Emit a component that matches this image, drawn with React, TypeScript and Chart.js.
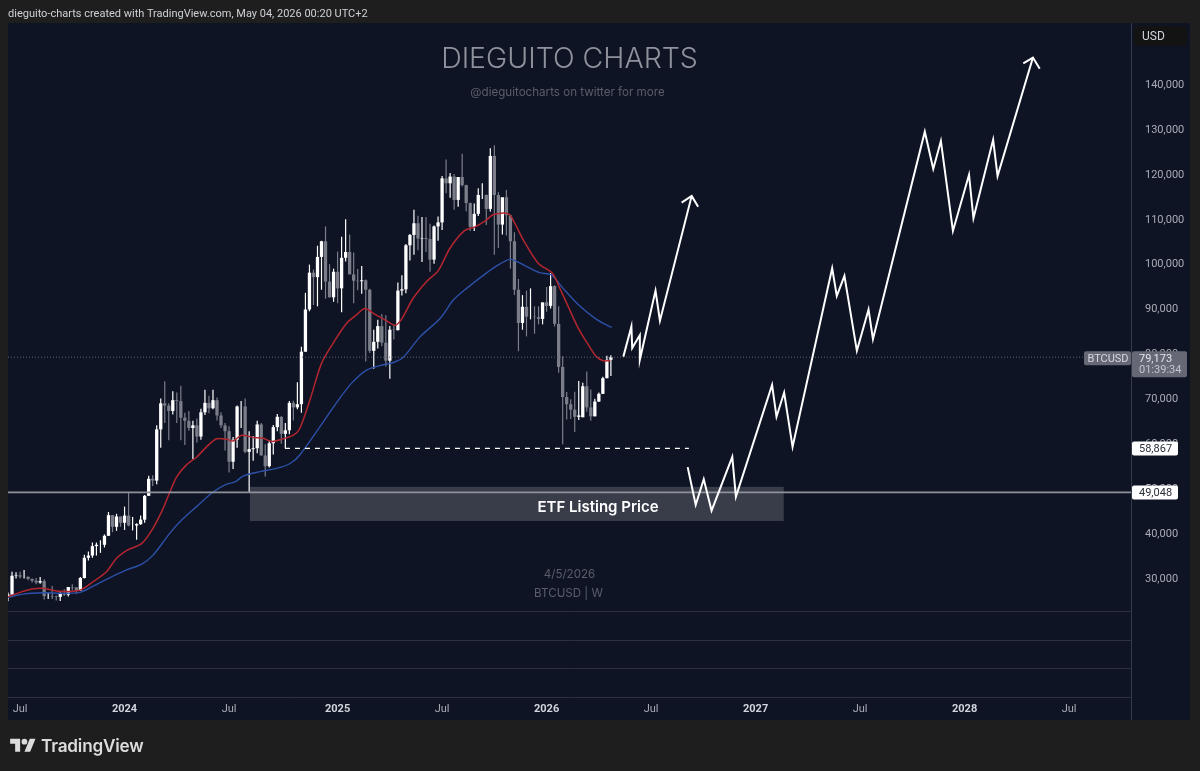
import React, { useEffect, useRef } from 'react';
import { Chart, registerables } from 'chart.js';

Chart.register(...registerables);

const FONT = 'Inter, "Liberation Sans", sans-serif';
const AXIS_FONT = 'Roboto, "Liberation Sans", sans-serif';

// weekly BTCUSD candles, thousands of USD, first one is the week of 12 Jun 2023
const opens = [
  25.9, 26.3, 30.5, 30.6, 30.3, 30.3, 29.8, 29.4, 29.0, 29.3, 26.0, 26.0, 25.9, 25.8, 26.5, 26.3, 28.0, 27.9, 27.2, 30.0,
  34.5, 35.0, 37.1, 37.4, 37.4, 39.4, 44.0, 41.4, 43.7, 42.3, 43.9, 41.7, 41.7, 42.0, 43.0, 48.3, 52.1, 51.7, 63.1, 68.9,
  68.4, 67.2, 69.6, 69.4, 65.7, 65.0, 63.4, 64.0, 61.5, 66.9, 69.0, 67.8, 69.6, 66.2, 64.0, 62.7, 55.9, 60.8, 68.2, 68.2,
  58.1, 58.7, 58.9, 64.2, 57.3, 54.9, 60.0, 63.6, 65.9, 62.1, 62.9, 69.0, 68.0, 68.7, 80.4, 89.8, 98.0, 97.0, 101.5, 105.0,
  96.0, 92.5, 98.2, 94.5, 101.3, 102.6, 97.6, 96.2, 96.1, 96.3, 94.2, 80.6, 82.6, 86.1, 82.4, 78.4, 85.3, 85.2, 94.0, 94.3,
  104.1, 106.4, 109.0, 105.6, 105.7, 105.5, 100.9, 108.3, 109.2, 119.0, 117.9, 119.4, 114.2, 119.3, 117.5, 113.5, 108.2, 111.1, 115.3, 115.3,
  112.2, 124.0, 115.3, 108.7, 114.8, 110.8, 105.0, 94.2, 86.8, 90.4, 88.2, 88.2, 88.1, 87.7, 91.4, 90.6, 95.0, 86.6, 77.0, 70.3,
  68.7, 67.5, 65.9, 65.8, 72.7, 68.0, 66.0, 69.3, 71.0, 74.5, 78.6,
];
const closes = [
  26.3, 30.5, 30.6, 30.3, 30.3, 29.8, 29.4, 29.0, 29.3, 26.0, 26.0, 25.9, 25.8, 26.5, 26.3, 28.0, 27.9, 27.2, 30.0, 34.5,
  35.0, 37.1, 37.4, 37.4, 39.4, 44.0, 41.4, 43.7, 42.3, 43.9, 41.7, 41.7, 42.0, 43.0, 48.3, 52.1, 51.7, 63.1, 68.9, 68.4,
  67.2, 69.6, 69.4, 65.7, 65.0, 63.4, 64.0, 61.5, 66.9, 69.0, 67.8, 69.6, 66.2, 64.0, 62.7, 55.9, 60.8, 68.2, 68.2, 58.1,
  58.7, 58.9, 64.2, 57.3, 54.9, 60.0, 63.6, 65.9, 62.1, 62.9, 69.0, 68.0, 68.7, 80.4, 89.8, 98.0, 97.0, 101.5, 105.0, 96.0,
  92.5, 98.2, 94.5, 101.3, 102.6, 97.6, 96.2, 96.1, 96.3, 94.2, 80.6, 82.6, 86.1, 82.4, 78.4, 85.3, 85.2, 94.0, 94.3, 104.1,
  106.4, 109.0, 105.6, 105.7, 105.5, 100.9, 108.3, 109.2, 119.0, 117.9, 119.4, 114.2, 119.3, 117.5, 113.5, 108.2, 111.1, 115.3, 115.3, 112.2,
  124.0, 115.3, 108.7, 114.8, 110.8, 105.0, 94.2, 86.8, 90.4, 88.2, 88.2, 88.1, 87.7, 91.4, 90.6, 95.0, 86.6, 77.0, 70.3, 68.7,
  67.5, 65.9, 66.2, 72.7, 68.0, 66.0, 69.3, 71.0, 74.5, 78.6, 79.17,
];
const highs = [
  26.8, 31.4, 31.3, 31.4, 31.8, 30.3, 29.9, 30.0, 30.2, 29.7, 26.8, 28.2, 26.1, 27.0, 27.5, 28.0, 28.6, 28.0, 30.2, 35.2,
  35.9, 37.9, 37.9, 38.4, 39.7, 44.7, 44.0, 44.3, 43.7, 45.9, 49.0, 43.6, 42.2, 43.9, 48.5, 52.8, 52.9, 64.0, 70.0, 73.8,
  68.9, 71.6, 71.3, 72.8, 66.8, 67.2, 65.0, 65.5, 67.7, 71.9, 70.6, 71.9, 70.2, 66.9, 64.5, 63.8, 61.4, 68.4, 69.4, 70.0,
  62.7, 61.6, 65.0, 64.5, 59.8, 60.6, 64.1, 66.5, 66.0, 64.5, 69.4, 69.5, 73.6, 81.5, 93.5, 99.8, 98.7, 104.0, 105.1, 108.3,
  99.9, 98.9, 102.7, 106.0, 109.9, 106.5, 102.5, 98.8, 99.5, 96.5, 94.4, 85.3, 87.5, 88.8, 88.5, 86.1, 86.4, 95.8, 97.4, 104.4,
  106.6, 112.0, 110.7, 110.4, 110.4, 108.9, 108.5, 110.5, 119.5, 123.2, 120.2, 120.0, 119.3, 124.5, 117.6, 113.6, 113.4, 116.8, 117.9, 115.4,
  125.7, 126.4, 115.9, 113.7, 116.4, 110.7, 107.0, 96.6, 93.0, 94.0, 94.5, 90.5, 90.5, 90.9, 94.8, 97.9, 95.2, 90.5, 79.4, 71.4,
  69.8, 71.5, 73.9, 73.5, 76.0, 72.0, 69.9, 71.3, 74.8, 79.5, 79.6,
];
const lows = [
  24.8, 26.3, 29.9, 29.9, 29.9, 29.5, 29.0, 28.6, 28.7, 25.2, 25.3, 25.3, 25.0, 24.9, 26.0, 25.9, 27.2, 26.5, 27.1, 29.9,
  33.9, 34.5, 35.0, 35.6, 36.8, 39.4, 40.2, 40.5, 41.4, 40.7, 41.5, 40.6, 38.5, 41.8, 42.3, 48.3, 50.5, 50.9, 59.0, 64.5,
  60.7, 66.4, 64.5, 60.7, 59.6, 62.8, 56.5, 60.2, 60.8, 66.3, 66.7, 67.6, 65.1, 63.4, 58.4, 53.5, 54.3, 59.0, 63.4, 57.8,
  49.0, 56.1, 57.8, 57.2, 52.6, 54.6, 57.5, 62.7, 59.9, 58.9, 62.0, 65.1, 67.6, 66.8, 80.4, 89.4, 90.8, 90.5, 94.2, 92.2,
  92.5, 91.5, 91.2, 89.2, 100.5, 97.8, 91.2, 94.1, 93.3, 78.2, 80.1, 76.6, 81.1, 81.6, 77.1, 74.4, 83.1, 85.1, 92.9, 93.4,
  100.7, 102.0, 103.0, 100.4, 102.6, 98.2, 100.0, 105.1, 107.5, 115.7, 114.7, 112.0, 112.7, 117.2, 111.7, 107.3, 107.3, 110.6, 114.4, 108.6,
  111.6, 102.0, 103.5, 106.5, 106.3, 98.9, 93.0, 80.5, 85.3, 83.8, 87.6, 84.4, 86.5, 86.5, 89.3, 90.0, 86.0, 75.7, 59.8, 65.3,
  65.4, 62.5, 65.2, 65.8, 67.0, 65.0, 66.0, 69.2, 71.0, 74.5, 75.0,
];

// moving averages, x is the week number
const redMa = [
  [0, 25.8], [3, 26.8], [6.3, 27.6], [8.8, 27.7], [12.1, 27.1], [14.6, 27.0], [17.9, 27.3], [21.2, 29.2], [24.5, 31.4], [27, 34.4],
  [29.5, 36.1], [33.3, 37.7], [36.1, 41.1], [38.6, 45.5], [40.3, 49.2], [42, 52.6], [44.4, 55.2], [46.9, 56.9], [49.4, 59.2], [51.9, 61.0],
  [54.4, 60.9], [56, 60.5], [58.1, 61.8], [61, 61.3], [63.5, 61.1], [65.6, 60.4], [68.5, 61.0], [71, 61.8], [72.6, 63.3], [75.1, 69.6],
  [78, 77.8], [80.9, 82.3], [84.2, 86.7], [86.7, 88.6], [88.8, 90.0], [91.3, 88.7], [93.8, 87.5], [96.3, 86.3], [97.9, 87.6], [100.8, 92.3],
  [104.1, 96.0], [107, 98.4], [110, 103.5], [113.5, 107.3], [116.2, 108.2], [119, 109.7], [120.7, 110.9], [124.5, 111.1], [126.1, 109.0], [128.2, 105.3],
  [131.9, 100.1], [135.4, 97.9], [137.3, 94.5], [139.5, 90.2], [141.9, 85.6], [144.4, 81.9], [146.4, 79.3], [148.1, 78.4], [149.8, 78.4],
];
const blueMa = [
  [0, 25.7], [3.8, 26.4], [8.8, 26.7], [12.9, 26.6], [17.9, 26.8], [21.2, 28.2], [25.4, 30.1], [29.5, 31.8], [33.3, 33.1], [36.1, 35.1],
  [40.3, 40.0], [43.2, 42.9], [46.9, 45.9], [51.1, 49.2], [54.4, 50.9], [56.5, 51.4], [58.5, 52.7], [62.7, 53.7], [66.8, 54.4], [70.2, 55.5],
  [72.6, 57.4], [82.2, 69.6], [85.5, 73.4], [89.2, 76.3], [92.5, 77.3], [95.9, 78.0], [98.3, 79.1], [102.5, 83.7], [107.5, 87.8], [110.8, 91.9],
  [114.1, 94.5], [119, 97.9], [121.6, 99.5], [124.9, 101.0], [126.5, 100.5], [132.3, 98.0], [135.2, 97.5], [138.1, 94.5], [142, 90.8], [146.4, 87.6], [150.2, 85.8],
];

// the drawn projections: [week, price]
const shortPath = [
  [153.1, 79.3], [155.1, 86.0], [155.3, 81.2], [157.2, 84.1], [157.2, 78.6], [161.1, 94.0], [162.2, 87.3], [170.1, 115.1],
];
const shortArrow = [[167.6, 113.6], [170.1, 115.1], [171.7, 112.7]];
const longPath = [
  [169.1, 54.7], [171.1, 46.3], [173.1, 52.0], [175.05, 45.0], [180.2, 57.0], [181.1, 48.1], [190.1, 73.0], [191.2, 65.9], [193.1, 71.3], [195.2, 59.2],
  [205.05, 99.0], [206.2, 92.8], [208.1, 97.3], [211.2, 80.6], [214.1, 89.8], [215.2, 83.2], [228.1, 129.4], [230.2, 121.1], [232.1, 127.3], [235.1, 107.3],
  [239.1, 119.8], [240.2, 110.1], [245.1, 127.6], [246.2, 119.5], [255, 145.9],
];
const longArrow = [[252.6, 144.6], [255, 145.9], [256.7, 143.4]];

const xMin = 0;
const xMax = 279.4;
const yMin = 3.5;
const yMax = 153.6;
const lastPrice = 79.173;
const supportPrice = 58.867;
const etfPrice = 49.048;
const supportFrom = 68.9;
const supportTo = 169.4;
const etfBox = { x0: 60.2, x1: 193, lo: 42.7, hi: 50.3, labelAt: 146.8 };
const paneLines = [22.65, 16.2, 10];

const yTicks = [30, 40, 50, 60, 70, 80, 90, 100, 110, 120, 130, 140];
const xTicks = [3, 29, 55, 82, 108, 134, 160, 186, 212, 238, 264];
const xLabels = ['Jul', '2024', 'Jul', '2025', 'Jul', '2026', 'Jul', '2027', 'Jul', '2028', 'Jul'];

const UP = '#ffffff';
const DOWN = '#7b7e89';
const PANEL = '#0e1424';
const OUTER = '#1e1e1e';
const LINE = '#2c3040';

const money = (v: number) => Math.round(v * 1000).toLocaleString('en-US');

const xy = (pts: number[][]) => pts.map(([x, y]) => ({ x, y }));

const backdrop = {
  id: 'backdrop',
  beforeDraw(chart: any) {
    const { ctx } = chart;
    ctx.save();
    ctx.fillStyle = OUTER;
    ctx.fillRect(0, 0, chart.width, chart.height);
    ctx.fillStyle = PANEL;
    ctx.fillRect(8, 23, 1182, 697);
    ctx.restore();
  },
  beforeDatasetsDraw(chart: any) {
    const { ctx, chartArea, scales } = chart;
    const mid = (chartArea.left + chartArea.right) / 2;
    ctx.save();

    // pane separators at the bottom
    ctx.strokeStyle = LINE;
    ctx.lineWidth = 1;
    paneLines.concat(yMin).forEach((p) => {
      const y = Math.round(scales.y.getPixelForValue(p)) + 0.5;
      ctx.beginPath();
      ctx.moveTo(chartArea.left, y);
      ctx.lineTo(chartArea.right, y);
      ctx.stroke();
    });
    ctx.strokeStyle = '#353a4a';
    ctx.beginPath();
    ctx.moveTo(chartArea.right + 0.5, 23);
    ctx.lineTo(chartArea.right + 0.5, 720);
    ctx.stroke();

    // watermark
    ctx.textAlign = 'center';
    ctx.textBaseline = 'middle';
    ctx.fillStyle = '#8f929d';
    ctx.font = `300 28.5px ${FONT}`;
    ctx.fillText('DIEGUITO CHARTS', mid, 59);
    ctx.fillStyle = '#5a5e6a';
    ctx.font = `400 11.6px ${FONT}`;
    ctx.fillText('@dieguitocharts on twitter for more', mid - 2, 93);
    ctx.fillText('4/5/2026', mid, 575);
    ctx.fillText('BTCUSD | W', mid - 1, 594);

    // ETF box
    const bx0 = scales.x.getPixelForValue(etfBox.x0);
    const bx1 = scales.x.getPixelForValue(etfBox.x1);
    const by0 = scales.y.getPixelForValue(etfBox.hi);
    const by1 = scales.y.getPixelForValue(etfBox.lo);
    ctx.fillStyle = '#383d49';
    ctx.fillRect(bx0, by0, bx1 - bx0, by1 - by0);
    ctx.fillStyle = '#ffffff';
    ctx.font = `600 15px ${FONT}`;
    ctx.fillText('ETF Listing Price', scales.x.getPixelForValue(etfBox.labelAt), by1 - 13);
    ctx.restore();
  },
  afterDraw(chart: any) {
    const { ctx, chartArea, scales } = chart;
    const right = chartArea.right + 1;
    const round = (x: number, y: number, w: number, h: number, fill: string) => {
      ctx.fillStyle = fill;
      ctx.beginPath();
      ctx.roundRect(x, y, w, h, 2);
      ctx.fill();
    };
    ctx.save();
    ctx.textBaseline = 'middle';

    // USD button
    round(right + 2, 26, 53, 20, '#131313');
    ctx.font = `400 12px ${AXIS_FONT}`;
    ctx.fillStyle = '#d1d4dc';
    ctx.textAlign = 'left';
    ctx.fillText('USD', right + 10, 37);

    // last price tags
    ctx.font = `400 11px ${AXIS_FONT}`;
    const lastY = scales.y.getPixelForValue(lastPrice);
    round(right - 48, lastY - 6, 47, 14, '#666975');
    ctx.fillStyle = '#d6d8de';
    ctx.textAlign = 'center';
    ctx.fillText('BTCUSD', right - 24, lastY + 2);
    round(right, lastY - 6, 55, 26, '#666975');
    ctx.textAlign = 'left';
    ctx.fillStyle = '#e4e5ea';
    ctx.fillText(money(lastPrice), right + 7, lastY + 2);
    ctx.fillStyle = '#c4c6cd';
    ctx.fillText('01:39:34', right + 7, lastY + 13);

    // white level tags
    [supportPrice, etfPrice].forEach((p) => {
      const y = scales.y.getPixelForValue(p);
      round(right, y - 7, 46, 14, '#ffffff');
      ctx.fillStyle = '#2a2e39';
      ctx.fillText(money(p), right + 7, y + 1);
    });
    ctx.restore();
  },
};

const App: React.FC = () => {
  const canvasRef = useRef<HTMLCanvasElement>(null);

  useEffect(() => {
    if (!canvasRef.current) return;
    const weeks = opens.map((_, i) => i);
    const colors = weeks.map((i) => (closes[i] >= opens[i] ? UP : DOWN));

    const chart = new Chart(canvasRef.current, {
      type: 'bar',
      data: {
        datasets: [
          {
            label: 'wicks',
            data: weeks.map((i) => ({ x: i, y: [lows[i], highs[i]] })),
            backgroundColor: colors,
            barThickness: 1.2,
            grouped: false,
            inflateAmount: 0,
            order: 5,
          },
          {
            label: 'bodies',
            data: weeks.map((i) => ({ x: i, y: [opens[i], closes[i]] })),
            backgroundColor: colors,
            barThickness: 3.3,
            grouped: false,
            inflateAmount: 0,
            order: 4,
          },
          { type: 'line', label: 'red', data: xy(redMa), borderColor: '#b3262f', borderWidth: 1.5, pointRadius: 0, tension: 0.3, order: 3 },
          { type: 'line', label: 'blue', data: xy(blueMa), borderColor: '#2d50a8', borderWidth: 1.4, pointRadius: 0, tension: 0.3, order: 3 },
          {
            type: 'line',
            label: 'last',
            data: xy([[xMin, lastPrice], [xMax, lastPrice]]),
            borderColor: '#5f626d',
            borderWidth: 1,
            borderDash: [1, 2],
            pointRadius: 0,
            order: 2,
          },
          {
            type: 'line',
            label: 'etf',
            data: xy([[xMin, etfPrice], [xMax, etfPrice]]),
            borderColor: '#8f929c',
            borderWidth: 1.8,
            pointRadius: 0,
            order: 2,
          },
          {
            type: 'line',
            label: 'support',
            data: xy([[supportFrom, supportPrice], [supportTo, supportPrice]]),
            borderColor: '#ffffff',
            borderWidth: 1.1,
            borderDash: [5, 5],
            pointRadius: 0,
            order: 1,
          },
          ...[shortPath, shortArrow, longPath, longArrow].map((pts, n) => ({
            type: 'line' as const,
            label: `path${n}`,
            data: xy(pts),
            borderColor: '#ffffff',
            borderWidth: 2,
            borderJoinStyle: 'miter' as const,
            pointRadius: 0,
            order: 0,
          })),
        ],
      } as any,
      plugins: [backdrop],
      options: {
        responsive: false,
        animation: false,
        layout: { padding: { left: 8, top: 23, right: 10, bottom: 51 } },
        plugins: { legend: { display: false }, tooltip: { enabled: false } },
        scales: {
          x: {
            type: 'linear',
            min: xMin,
            max: xMax,
            offset: false,
            grid: { display: false, drawTicks: false },
            border: { display: false },
            afterBuildTicks: (scale: any) => {
              scale.ticks = xTicks.map((value) => ({ value }));
            },
            afterFit: (scale: any) => {
              scale.height = 23;
            },
            ticks: {
              autoSkip: false,
              maxRotation: 0,
              padding: 6,
              callback: (v: any) => xLabels[xTicks.indexOf(Number(v))],
              color: (c: any) => (xLabels[c.index] === 'Jul' ? '#a9acb6' : '#d1d4dc'),
              font: (c: any) => ({ family: AXIS_FONT, size: 11, weight: xLabels[c.index] === 'Jul' ? 400 : 700 }),
            },
          },
          y: {
            type: 'linear',
            position: 'right',
            min: yMin,
            max: yMax,
            grid: { display: false },
            border: { display: false },
            afterBuildTicks: (scale: any) => {
              scale.ticks = yTicks.map((value) => ({ value }));
            },
            afterFit: (scale: any) => {
              scale.width = 59;
            },
            ticks: {
              autoSkip: false,
              padding: 6,
              labelOffset: 1,
              color: '#a9acb6',
              font: { family: AXIS_FONT, size: 11 },
              callback: (v: any) => money(Number(v)),
            },
          },
        },
      } as any,
    });

    return () => {
      chart.destroy();
    };
  }, []);

  return (
    <div style={{ position: 'absolute', left: 0, top: 0, width: 1200, height: 771, overflow: 'hidden', background: OUTER }}>
      <canvas ref={canvasRef} width={1200} height={771} style={{ display: 'block' }} />
      <div style={{ position: 'absolute', left: 8, top: 7, fontFamily: AXIS_FONT, fontSize: 11, lineHeight: '14px', color: '#cfd1d6', whiteSpace: 'nowrap' }}>
        dieguito-charts created with TradingView.com, May 04, 2026 00:20 UTC+2
      </div>
      <svg style={{ position: 'absolute', left: 10, top: 736 }} width={26} height={20} viewBox="0 0 36 28">
        <path fill="#dcdcdc" d="M14 22H7V11H0V4h14v18zM28 22h-8l7.5-18h8L28 22z" />
        <circle fill="#dcdcdc" cx="20" cy="8" r="4" />
      </svg>
      <div style={{ position: 'absolute', left: 41, top: 734, fontFamily: FONT, fontSize: 17.2, fontWeight: 600, lineHeight: '24px', color: '#dcdcdc', letterSpacing: '-0.2px' }}>
        TradingView
      </div>
    </div>
  );
};

export default App;
